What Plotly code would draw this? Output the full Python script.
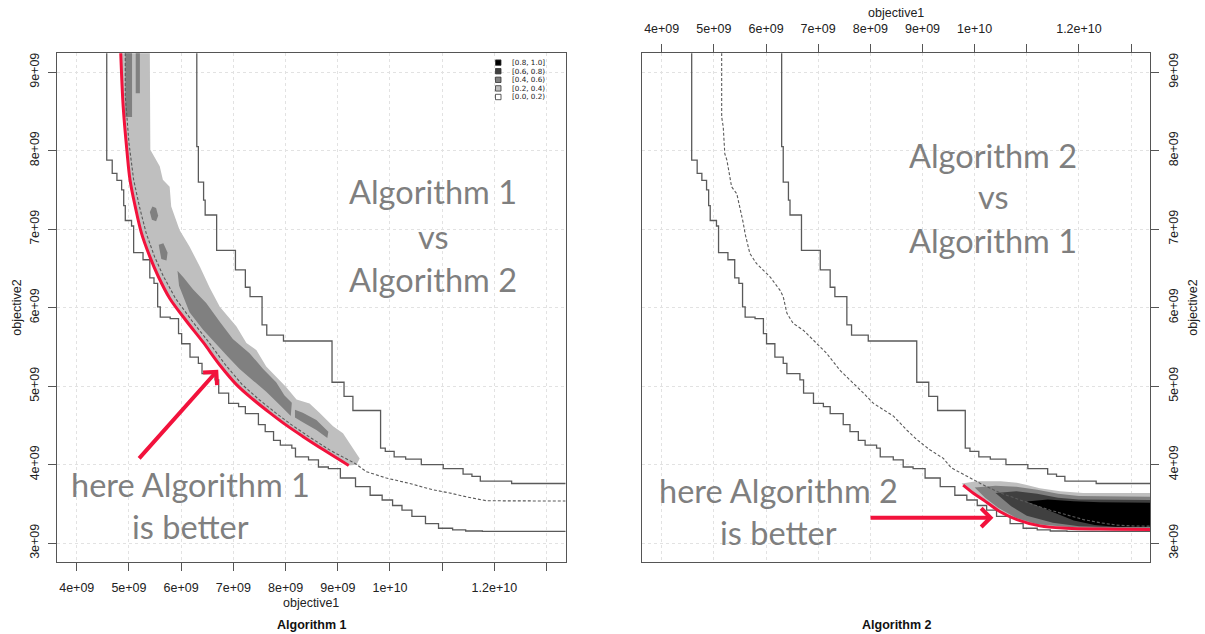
import plotly.graph_objects as go

W, H = 1205, 634
E9 = 1e9

# ---------------- data (objective values in units of 1e9) ----------------
x_tick_vals = [4, 5, 6, 7, 8, 9, 10, 11, 12, 13]
x_tick_text = ["4e+09", "5e+09", "6e+09", "7e+09", "8e+09", "9e+09", "1e+10", "", "1.2e+10", ""]
y_tick_vals = [3, 4, 5, 6, 7, 8, 9]
y_tick_text = ["3e+09", "4e+09", "5e+09", "6e+09", "7e+09", "8e+09", "9e+09"]

# grand-best attainment surface (solid, lower-left)
best_x = [4.575, 4.575, 4.68, 4.77, 4.86, 4.90, 4.93, 5.05, 5.09, 5.09, 5.27, 5.40, 5.48, 5.55, 5.60,
          5.79, 5.95, 6.01, 6.17, 6.33, 6.40, 6.65, 6.72, 6.91, 7.10, 7.23, 7.48, 7.61, 7.77, 7.90,
          8.12, 8.19, 8.44, 8.63, 8.82, 9.05, 9.34, 9.62, 9.85, 10.05, 10.23, 10.42, 10.68, 10.93,
          11.20, 11.45, 11.77, 14.0]
best_y = [9.50, 7.88, 7.71, 7.62, 7.50, 7.30, 7.11, 7.04, 6.99, 6.70, 6.61, 6.38, 6.31, 6.01, 5.88,
          5.86, 5.67, 5.54, 5.37, 5.29, 5.16, 5.08, 4.91, 4.78, 4.74, 4.65, 4.51, 4.42, 4.31, 4.25,
          4.21, 4.10, 4.06, 3.97, 3.95, 3.83, 3.72, 3.61, 3.55, 3.48, 3.42, 3.34, 3.25, 3.19,
          3.17, 3.155, 3.15, 3.15]

# grand-worst attainment surface (solid, upper-right)
worst_x = [6.29, 6.30, 6.33, 6.43, 6.46, 6.68, 7.04, 7.23, 7.32, 7.55, 7.64, 7.96, 8.89, 9.12, 9.29,
           9.82, 9.91, 10.08, 10.30, 10.60, 11.02, 11.40, 11.57, 11.73, 12.33, 14.0]
worst_y = [9.50, 8.05, 7.60, 7.37, 7.18, 6.73, 6.48, 6.26, 6.14, 5.78, 5.65, 5.575, 5.05, 4.87, 4.69,
           4.21, 4.17, 4.10, 4.07, 4.00, 3.95, 3.88, 3.85, 3.79, 3.76, 3.755]

# median attainment surface of Algorithm 1 (dashed, left panel)
med1_x = [4.93, 4.93, 5.00, 5.09, 5.20, 5.33, 5.49, 5.66, 5.89, 6.21, 6.53, 6.85, 7.17, 7.49, 7.81,
          8.13, 8.44, 8.86, 9.32, 9.55, 9.93, 10.38, 10.82, 11.14, 11.46, 11.85, 14.0]
med1_y = [9.50, 8.70, 8.10, 7.63, 7.29, 6.95, 6.65, 6.40, 6.12, 5.83, 5.56, 5.27, 5.02, 4.83, 4.66,
          4.50, 4.36, 4.18, 4.02, 3.91, 3.83, 3.76, 3.68, 3.64, 3.59, 3.54, 3.535]

# median attainment surface of Algorithm 2 (dashed, right panel)
med2_x = [5.15, 5.15, 5.18, 5.21, 5.25, 5.34, 5.44, 5.50, 5.56, 5.60, 5.69, 5.82, 5.98, 6.08, 6.27,
          6.33, 6.40, 6.52, 6.72, 6.97, 7.16, 7.42, 7.61, 7.87, 8.06, 8.25, 8.44, 8.70, 8.89, 9.14,
          9.40, 9.55, 9.88, 10.17, 10.49, 10.81, 11.13, 11.45, 11.77, 12.09, 12.41, 12.72, 13.0, 14.0]
med2_y = [9.50, 8.43, 8.30, 7.96, 7.88, 7.54, 7.45, 7.28, 7.09, 6.94, 6.69, 6.56, 6.46, 6.39, 6.22,
          6.14, 5.93, 5.80, 5.71, 5.54, 5.42, 5.20, 5.08, 4.91, 4.78, 4.70, 4.62, 4.44, 4.32, 4.19,
          4.08, 3.96, 3.84, 3.74, 3.64, 3.56, 3.49, 3.42, 3.36, 3.30, 3.26, 3.23, 3.22, 3.21]

# red highlight curves
red1_x = [4.84, 4.89, 4.96, 5.02, 5.12, 5.24, 5.40, 5.56, 5.78, 6.10, 6.42, 6.74, 7.06, 7.38, 7.70,
          8.02, 8.33, 8.75, 9.21]
red1_y = [9.30, 8.56, 8.01, 7.63, 7.29, 6.95, 6.65, 6.40, 6.12, 5.83, 5.56, 5.27, 5.02, 4.83, 4.66,
          4.50, 4.36, 4.18, 3.99]
red2_x = [9.78, 9.97, 10.17, 10.49, 10.81, 11.25, 11.77, 12.40, 13.5]
red2_y = [3.74, 3.64, 3.55, 3.40, 3.30, 3.22, 3.19, 3.18, 3.175]

# left panel: [0.2, 0.4) region
l_light_x = [4.84, 5.40, 5.41, 5.59, 5.65, 5.78, 5.81, 5.97, 6.16, 6.36, 6.55, 6.74, 7.06, 7.25,
             7.44, 7.63, 7.82, 8.01, 8.21, 8.46, 8.65, 8.91, 9.10, 9.23, 9.42, 9.36, 9.21] + red1_x[::-1][1:]
l_light_y = [9.30, 9.30, 8.01, 7.80, 7.63, 7.54, 7.29, 6.99, 6.78, 6.52, 6.25, 6.01, 5.76, 5.55,
             5.46, 5.25, 5.12, 4.99, 4.83, 4.78, 4.66, 4.49, 4.40, 4.27, 4.08, 4.00, 3.99] + red1_y[::-1][1:]

# left panel: [0.4, 0.6) patches
l_mid_band_x = [5.93, 6.05, 6.23, 6.48, 6.74, 6.99, 7.31, 7.57, 7.82, 7.98, 8.12,
                8.10, 7.89, 7.63, 7.38, 7.12, 6.90, 6.68, 6.42, 6.16, 5.96]
l_mid_band_y = [6.47, 6.38, 6.23, 6.06, 5.82, 5.60, 5.42, 5.22, 5.05, 4.88, 4.79,
                4.62, 4.76, 4.93, 5.07, 5.22, 5.37, 5.53, 5.72, 5.94, 6.28]
l_mid_tail_x = [8.18, 8.33, 8.59, 8.82, 8.80, 8.59, 8.33, 8.18]
l_mid_tail_y = [4.70, 4.66, 4.57, 4.42, 4.34, 4.44, 4.54, 4.60]
l_mid_strip1_x = [4.93, 5.06, 5.06, 4.93]
l_mid_strip1_y = [9.30, 9.30, 8.43, 8.43]
l_mid_strip2_x = [5.13, 5.21, 5.21, 5.13]
l_mid_strip2_y = [9.30, 9.30, 8.73, 8.73]
l_mid_blob1_x = [5.40, 5.45, 5.52, 5.56, 5.52, 5.44]
l_mid_blob1_y = [7.22, 7.29, 7.27, 7.17, 7.10, 7.12]
l_mid_blob2_x = [5.57, 5.66, 5.74, 5.72, 5.62]
l_mid_blob2_y = [6.80, 6.82, 6.70, 6.60, 6.62]

# right panel regions
r_light_x = [9.75, 10.04, 10.50, 10.81, 11.00, 11.25, 11.64, 12.08, 13.5] + red2_x[::-1]
r_light_y = [3.76, 3.79, 3.79, 3.77, 3.74, 3.70, 3.66, 3.64, 3.64] + red2_y[::-1]
r_mid_x = [10.0, 10.4, 10.8, 11.2, 11.6, 12.0, 13.5, 13.5, 12.5, 11.8, 11.2, 10.8, 10.45, 10.2]
r_mid_y = [3.71, 3.73, 3.72, 3.68, 3.63, 3.60, 3.59, 3.19, 3.19, 3.205, 3.24, 3.32, 3.45, 3.58]
r_dark_x = [10.4, 10.8, 11.2, 11.6, 12.0, 13.5, 13.5, 12.5, 12.0, 11.5, 11.0, 10.7]
r_dark_y = [3.64, 3.66, 3.63, 3.58, 3.555, 3.55, 3.205, 3.205, 3.215, 3.26, 3.35, 3.47]
r_black_x = [11.0, 11.4, 11.9, 12.4, 13.5, 13.5, 12.7, 12.3, 11.9, 11.6, 11.3]
r_black_y = [3.53, 3.555, 3.535, 3.52, 3.515, 3.21, 3.21, 3.23, 3.29, 3.37, 3.45]

# arrows (tail -> tip)
arrow1 = dict(tail=(5.17, 4.06), tip=(6.71, 5.21))
arrow2 = dict(tail=(7.975, 3.325), tip=(10.36, 3.325))

legend_labels = ["[0.8, 1.0]", "[0.6, 0.8)", "[0.4, 0.6)", "[0.2, 0.4)", "[0.0, 0.2)"]
legend_colors = ["#000000", "#404040", "#808080", "#bfbfbf", "#ffffff"]

big_left = ["Algorithm 1", "vs", "Algorithm 2"]
big_right = ["Algorithm 2", "vs", "Algorithm 1"]
note_left = ["here Algorithm 1", "is better"]
note_right = ["here Algorithm 2", "is better"]

# ---------------- styles ----------------
C_LIGHT, C_MID, C_DARK, C_BLACK = "#bfbfbf", "#808080", "#404040", "#000000"
C_LINE = "#5a5a5a"
C_RED = "#f2123c"
C_TEXT = "#7f7f7f"


def sc(v):
    return [a * E9 for a in v]


fig = go.Figure()


def poly(xs, ys, color, xa, ya):
    fig.add_trace(go.Scatter(x=sc(xs), y=sc(ys), fill="toself", fillcolor=color, mode="lines",
                             line=dict(width=0, color=color), hoverinfo="skip", showlegend=False,
                             xaxis=xa, yaxis=ya))


def line(xs, ys, xa, ya, color=C_LINE, width=1.3, dash="solid", shape="linear"):
    fig.add_trace(go.Scatter(x=sc(xs), y=sc(ys), mode="lines",
                             line=dict(color=color, width=width, dash=dash, shape=shape),
                             hoverinfo="skip", showlegend=False, xaxis=xa, yaxis=ya))


# left panel
poly(l_light_x, l_light_y, C_LIGHT, "x", "y")
for px_, py_ in [(l_mid_band_x, l_mid_band_y), (l_mid_tail_x, l_mid_tail_y),
                 (l_mid_strip1_x, l_mid_strip1_y), (l_mid_strip2_x, l_mid_strip2_y),
                 (l_mid_blob1_x, l_mid_blob1_y), (l_mid_blob2_x, l_mid_blob2_y)]:
    poly(px_, py_, C_MID, "x", "y")
line(best_x, best_y, "x", "y", shape="hv")
line(worst_x, worst_y, "x", "y", shape="hv")
line(red1_x, red1_y, "x", "y", color=C_RED, width=3, shape="spline")
line(med1_x, med1_y, "x", "y", dash="3px,2px", width=1.1)

# right panel
poly(r_light_x, r_light_y, C_LIGHT, "x2", "y2")
poly(r_mid_x, r_mid_y, C_MID, "x2", "y2")
poly(r_dark_x, r_dark_y, C_DARK, "x2", "y2")
poly(r_black_x, r_black_y, C_BLACK, "x2", "y2")
line(best_x, best_y, "x2", "y2", shape="hv")
line(worst_x, worst_y, "x2", "y2", shape="hv")
line(med2_x, med2_y, "x2", "y2", dash="3px,2px", width=1.1)
line(red2_x, red2_y, "x2", "y2", color=C_RED, width=3, shape="spline")

# ---------------- layout ----------------
LX = [57.3 / W, 565.5 / W]
RX = [642.3 / W, 1150 / W]
YD = [1 - 562 / H, 1 - 53.3 / H]
XR = [3.628 * E9, 13.362 * E9]
YR = [2.760 * E9, 9.240 * E9]

tickfont = dict(family="Liberation Sans, Arial, sans-serif", size=12.5, color="#222222")
common = dict(showline=True, linecolor="#555555", linewidth=1.2, mirror=True,
              ticks="outside", ticklen=8, tickcolor="#555555", tickwidth=1,
              showgrid=True, gridcolor="#e2e2e2", griddash="dot", gridwidth=1,
              zeroline=False, tickfont=tickfont, automargin=False, fixedrange=True)

fig.update_layout(
    width=W, height=H, margin=dict(l=0, r=0, t=0, b=0),
    paper_bgcolor="white", plot_bgcolor="white", showlegend=False,
    xaxis=dict(domain=LX, range=XR, anchor="y", side="bottom",
               tickvals=sc(x_tick_vals), ticktext=x_tick_text, ticklabelstandoff=6, **common),
    yaxis=dict(domain=YD, range=YR, anchor="x", side="left", tickangle=-90,
               tickvals=sc(y_tick_vals), ticktext=y_tick_text, ticklabelstandoff=4, **common),
    xaxis2=dict(domain=RX, range=XR, anchor="y2", side="top",
                tickvals=sc(x_tick_vals), ticktext=x_tick_text, ticklabelstandoff=6, **common),
    yaxis2=dict(domain=YD, range=YR, anchor="x2", side="right", tickangle=-90,
                tickvals=sc(y_tick_vals), ticktext=y_tick_text, ticklabelstandoff=4, **common),
)

ann = []
lab_font = dict(family="Liberation Sans, Arial, sans-serif", size=12.5, color="#222222")
bold_font = dict(family="Liberation Sans, Arial, sans-serif", size=12.5, color="#111111")


def pann(text, cx, cy, font, angle=0, xanchor="center", pad=1):
    ann.append(dict(text=text, x=cx / W, y=1 - cy / H, xref="paper", yref="paper",
                    xanchor=xanchor, yanchor="middle", showarrow=False, font=font,
                    textangle=angle, borderpad=pad))


pann("objective1", 311.4, 603, lab_font)
pann("objective2", 17, 307.7, lab_font, angle=-90)
pann("<b>Algorithm 1</b>", 311.4, 625, bold_font)
pann("objective1", 896, 13, lab_font)
pann("objective2", 1193, 307.7, lab_font, angle=-90)
pann("<b>Algorithm 2</b>", 896, 625, bold_font)

BIG = 32.5
big_font = dict(family="Lato, Open Sans, sans-serif", size=BIG, color=C_TEXT)
for t, b in zip(big_left, [201.7, 246.7, 290.0]):
    pann(t, 433, b - 0.32 * BIG, big_font)
for t, b in zip(big_right, [165.7, 207.0, 250.7]):
    pann(t, 993, b - 0.32 * BIG, big_font)
for t, b in zip(note_left, [495.0, 536.7]):
    pann(t, 190, b - 0.32 * BIG, big_font)
for t, b in zip(note_right, [501.0, 543.3]):
    pann(t, 778, b - 0.32 * BIG, big_font)

# arrows
for arr, xa, ya in [(arrow1, "x", "y"), (arrow2, "x2", "y2")]:
    ann.append(dict(x=arr["tip"][0] * E9, y=arr["tip"][1] * E9, ax=arr["tail"][0] * E9, ay=arr["tail"][1] * E9,
                    xref=xa, yref=ya, axref=xa, ayref=ya, text="", showarrow=True,
                    arrowhead=4, arrowsize=0.9, arrowwidth=4, arrowcolor=C_RED, standoff=0))

# legend (inside left panel, top right)
shapes = []
leg_font = dict(family="DejaVu Sans, sans-serif", size=7.2, color="#222222")
for i, (lab, col) in enumerate(zip(legend_labels, legend_colors)):
    cy = 62.6 + i * 8.6
    shapes.append(dict(type="rect", xref="paper", yref="paper",
                       x0=495.5 / W, x1=501.0 / W, y0=1 - (cy + 2.7) / H, y1=1 - (cy - 2.7) / H,
                       fillcolor=col, line=dict(color="#333333", width=0.8)))
    pann(lab, 511, cy, leg_font, xanchor="left", pad=0)

fig.update_layout(annotations=ann, shapes=shapes)
fig.write_html("out.html")
